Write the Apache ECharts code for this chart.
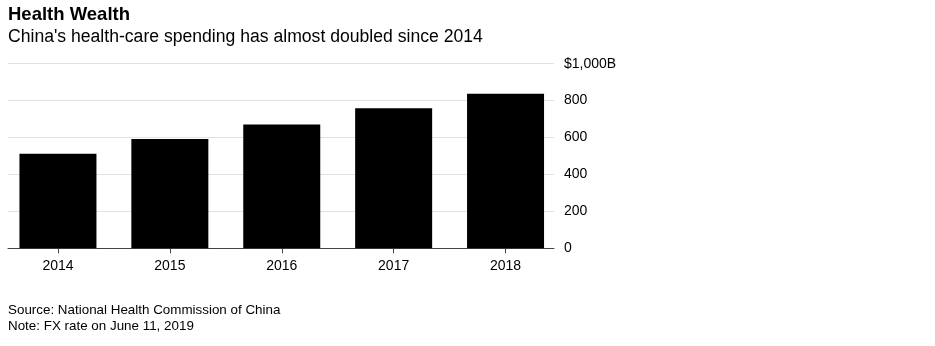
<!DOCTYPE html>
<html>
<head>
<meta charset="utf-8">
<script src="https://cdn.jsdelivr.net/npm/echarts@6/dist/echarts.min.js"></script>
<style>
html,body{margin:0;padding:0;background:#fff;}
#chart{width:935px;height:346px;}
</style>
</head>
<body>
<div id="chart"></div>
<script>
const categories = ['2014', '2015', '2016', '2017', '2018'];
const spending = [512, 592, 670, 758, 837];
const yTickLabels = {0: '0', 200: '200', 400: '400', 600: '600', 800: '800', 1000: '$1,000B'};

const FONT = '"Liberation Sans", Arial, Helvetica, sans-serif';
const chart = echarts.init(document.getElementById('chart'), null, {renderer: 'canvas'});

const gridTop = 63.7, gridH = 184.6;

chart.setOption({
  animation: false,
  backgroundColor: '#fff',
  title: [
    {text: 'Health Wealth', left: 8, top: 6, padding: 0, textStyle: {fontFamily: FONT, fontSize: 18.5, fontWeight: 'bold', color: '#000', lineHeight: 18}},
    {text: "China's health-care spending has almost doubled since 2014", left: 8, top: 28, padding: 0, textStyle: {fontFamily: FONT, fontSize: 17.6, fontWeight: 'normal', color: '#000', lineHeight: 18}},
    {text: 'Source: National Health Commission of China', left: 8, top: 303, padding: 0, textStyle: {fontFamily: FONT, fontSize: 13.4, fontWeight: 'normal', color: '#000', lineHeight: 14}},
    {text: 'Note: FX rate on June 11, 2019', left: 8, top: 319, padding: 0, textStyle: {fontFamily: FONT, fontSize: 13.4, fontWeight: 'normal', color: '#000', lineHeight: 14}}
  ],
  grid: [
    {left: 8, top: gridTop, width: 546, height: gridH, containLabel: false},
    {left: 2, top: gridTop, width: 559.5, height: gridH, containLabel: false}
  ],
  xAxis: [
    {gridIndex: 0, type: 'value', min: 0, max: 1,
      axisLine: {show: true, lineStyle: {color: '#444', width: 1}},
      axisTick: {show: false}, axisLabel: {show: false}, splitLine: {show: false}},
    {gridIndex: 1, type: 'category', data: categories,
      axisLine: {show: false},
      axisTick: {show: true, alignWithLabel: true, length: 5, lineStyle: {color: '#444', width: 1}},
      axisLabel: {show: true, margin: 11, fontFamily: FONT, fontSize: 14, color: '#000'},
      splitLine: {show: false}}
  ],
  yAxis: [
    {gridIndex: 0, type: 'value', position: 'right', min: 0, max: 1000, interval: 200,
      axisLine: {show: false}, axisTick: {show: false},
      axisLabel: {show: true, margin: 10, align: 'left', fontFamily: FONT, fontSize: 14, color: '#000',
        formatter: v => yTickLabels[v] !== undefined ? yTickLabels[v] : String(v)},
      splitLine: {show: true, lineStyle: {color: '#e2e2e2', width: 1}}},
    {gridIndex: 1, type: 'value', min: 0, max: 1000, interval: 200, show: false}
  ],
  series: [
    {type: 'bar', xAxisIndex: 1, yAxisIndex: 1, data: spending, barWidth: 77,
      itemStyle: {color: '#000'}, z: 3}
  ]
});
</script>
</body>
</html>
